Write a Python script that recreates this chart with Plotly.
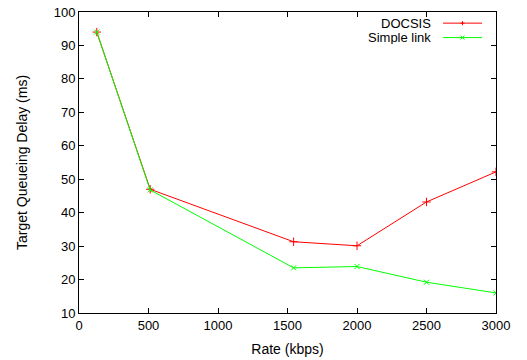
import plotly.graph_objects as go

rate_kbps = [128, 512, 1544, 2000, 2500, 3000]
docsis = [94.0, 47.0, 31.3, 30.1, 43.2, 52.2]
simple_link = [94.0, 46.8, 23.5, 23.9, 19.2, 16.0]
series_names = ["DOCSIS", "Simple link"]
x_ticks = [0, 500, 1000, 1500, 2000, 2500, 3000]
y_ticks = [10, 20, 30, 40, 50, 60, 70, 80, 90, 100]

RED = "#ff0000"
GREEN = "#00ff00"
FONT = "Liberation Sans, Arial, sans-serif"

fig = go.Figure()
fig.add_trace(go.Scatter(x=rate_kbps, y=docsis, mode="lines+markers", name=series_names[0],
                         line=dict(color=RED, width=1),
                         marker=dict(symbol="cross-thin-open", size=6, line=dict(color=RED, width=1)),
                         showlegend=False))
fig.add_trace(go.Scatter(x=rate_kbps, y=simple_link, mode="lines+markers", name=series_names[1],
                         line=dict(color=GREEN, width=1),
                         marker=dict(symbol="x-thin-open", size=5, line=dict(color=GREEN, width=1)),
                         showlegend=False))

axis_common = dict(showgrid=False, zeroline=False, showline=True, linecolor="black", linewidth=1,
                   mirror="ticks", ticks="inside", ticklen=5, tickcolor="black", automargin=False,
                   tickfont=dict(family=FONT, size=13, color="black"))
fig.update_xaxes(range=[0, 3000], tickvals=x_ticks,
                 title=dict(text="Rate (kbps)", font=dict(family=FONT, size=14, color="black"), standoff=12),
                 **axis_common)
fig.update_yaxes(range=[10, 100], tickvals=y_ticks,
                 title=dict(text="Target Queueing Delay (ms)", font=dict(family=FONT, size=14, color="black"), standoff=22),
                 **axis_common)

# custom gnuplot-style legend (text left of sample)
legend_rows = [(series_names[0], RED, 0.963), (series_names[1], GREEN, 0.915)]
x0_px, x1_px = 443, 482
plot_l, plot_r = 79, 496
def px2paper(px):
    return (px - plot_l) / (plot_r - plot_l)
for name, color, yp in legend_rows:
    fig.add_annotation(x=px2paper(432), y=yp, xref="paper", yref="paper", text=name, showarrow=False,
                       xanchor="right", yanchor="middle", height=13, borderpad=0,
                       font=dict(family=FONT, size=13, color="black"))
    fig.add_shape(type="line", xref="paper", yref="paper", x0=px2paper(x0_px), x1=px2paper(x1_px),
                  y0=yp, y1=yp, line=dict(color=color, width=1))
    mx = px2paper((x0_px + x1_px) / 2)
    dx = 2 / (plot_r - plot_l)
    dy = 2 / 300
    if name == series_names[0]:
        fig.add_shape(type="line", xref="paper", yref="paper", x0=mx - dx, x1=mx + dx, y0=yp, y1=yp,
                      line=dict(color=color, width=1))
        fig.add_shape(type="line", xref="paper", yref="paper", x0=mx, x1=mx, y0=yp - dy, y1=yp + dy,
                      line=dict(color=color, width=1))
    else:
        fig.add_shape(type="line", xref="paper", yref="paper", x0=mx - dx, x1=mx + dx, y0=yp - dy, y1=yp + dy,
                      line=dict(color=color, width=1))
        fig.add_shape(type="line", xref="paper", yref="paper", x0=mx - dx, x1=mx + dx, y0=yp + dy, y1=yp - dy,
                      line=dict(color=color, width=1))

fig.update_layout(width=527, height=360, margin=dict(l=79, r=31, t=12, b=47),
                  plot_bgcolor="white", paper_bgcolor="white",
                  font=dict(family=FONT, size=13, color="black"))
fig.write_html("out.html", config={"displayModeBar": False},
               post_script="document.body.style.margin='0';")
